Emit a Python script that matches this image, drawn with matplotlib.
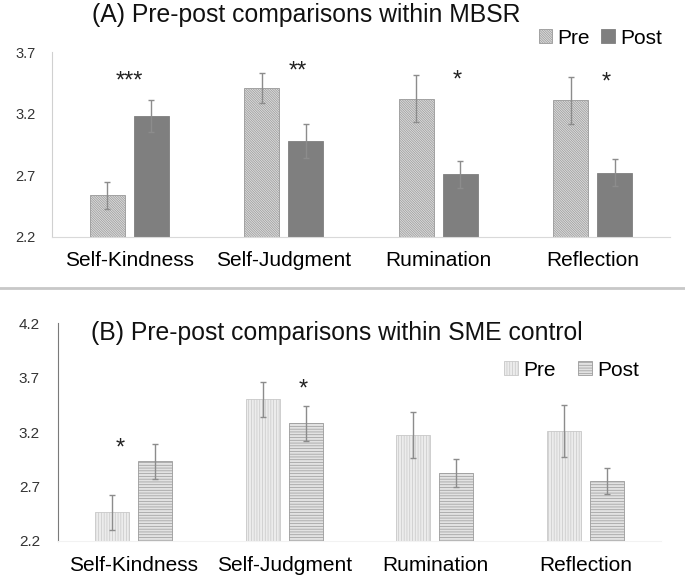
import numpy as np
import matplotlib
matplotlib.use('Agg')
from matplotlib import pyplot as plt
from matplotlib.lines import Line2D

plt.rcParams['font.family'] = ['Liberation Sans', 'DejaVu Sans']
plt.rcParams['hatch.linewidth'] = 0.5

categories = ['Self-Kindness', 'Self-Judgment', 'Rumination', 'Reflection']

# (A) MBSR
mbsr_pre = [2.54, 3.41, 3.32, 3.31]
mbsr_pre_err = [0.11, 0.12, 0.19, 0.19]
mbsr_post = [3.18, 2.98, 2.71, 2.72]
mbsr_post_err = [0.13, 0.14, 0.11, 0.11]
mbsr_stars = ['***', '**', '*', '*']
mbsr_star_y = [3.46, 3.54, 3.47, 3.45]
mbsr_star_dx = [0.0, 0.09, 0.12, 0.09]

# (B) SME control
sme_pre = [2.46, 3.50, 3.17, 3.21]
sme_pre_err = [0.16, 0.16, 0.21, 0.24]
sme_post = [2.93, 3.28, 2.82, 2.75]
sme_post_err = [0.16, 0.16, 0.13, 0.12]
sme_stars = ['*', '*', '', '']
sme_star_y = [3.05, 3.59, 0, 0]
sme_star_dx = [-0.09, 0.126, 0, 0]

x = np.arange(len(categories))
w = 0.225
off = 0.143

fig = plt.figure(figsize=(6.85, 5.77), dpi=100)

# ---- panel A
axA = fig.add_axes([52/685, 1-237/577, (670-52)/685, (237-52)/577])
axA.bar(x-off, mbsr_pre, w, color='#dcdcdc', edgecolor='#999999',
        hatch='\\' * 14, linewidth=0.6, label='Pre')
axA.bar(x+off, mbsr_post, w, color='#7f7f7f', edgecolor='#7f7f7f',
        linewidth=0.6, label='Post')
axA.errorbar(x-off, mbsr_pre, yerr=mbsr_pre_err, fmt='none', ecolor='#8c8c8c',
             elinewidth=1, capsize=2.5, capthick=1)
axA.errorbar(x+off, mbsr_post, yerr=mbsr_post_err, fmt='none', ecolor='#8c8c8c',
             elinewidth=1, capsize=2.5, capthick=1)
for i in range(len(categories)):
    axA.text(x[i]+mbsr_star_dx[i], mbsr_star_y[i], mbsr_stars[i], ha='center',
             va='center', fontsize=17, color='#222222')
axA.set_ylim(2.2, 3.7)
axA.set_xlim(-0.5, 3.5)
axA.set_yticks([2.2, 2.7, 3.2, 3.7])
axA.set_yticklabels(['2.2', '2.7', '3.2', '3.7'])
axA.set_xticks(x)
axA.set_xticklabels(categories, fontsize=15)
axA.tick_params(axis='y', length=0, pad=12, labelsize=10.5, labelcolor='#333333')
axA.tick_params(axis='x', length=0, pad=10)
for s in ['top', 'right']:
    axA.spines[s].set_visible(False)
axA.spines['left'].set_color('#d0d0d0')
axA.spines['bottom'].set_color('#d9d9d9')
axA.legend(loc='center right', bbox_to_anchor=(662/685, 1-38/577),
           bbox_transform=fig.transFigure, ncol=2, frameon=False, fontsize=15,
           handlelength=0.65, handleheight=0.65, handletextpad=0.25,
           columnspacing=0.55, borderpad=0, borderaxespad=0)
fig.text(306/685, 1-15/577, '(A) Pre-post comparisons within MBSR',
         ha='center', va='center', fontsize=17.8, color='#111111')

# separator
fig.add_artist(Line2D([0, 1], [1-288/577, 1-288/577], color='#c8c8c8', lw=2,
                      transform=fig.transFigure))

# ---- panel B
axB = fig.add_axes([58/685, 1-540.7/577, (661-58)/685, (540.7-323.3)/577])
axB.bar(x-off, sme_pre, w, color='#ececec', edgecolor='#c8c8c8',
        hatch='|' * 6, linewidth=0.6, label='Pre')
axB.bar(x+off, sme_post, w, color='#e2e2e2', edgecolor='#9a9a9a',
        hatch='-' * 6, linewidth=0.6, label='Post')
axB.errorbar(x-off, sme_pre, yerr=sme_pre_err, fmt='none', ecolor='#8c8c8c',
             elinewidth=1, capsize=2.5, capthick=1)
axB.errorbar(x+off, sme_post, yerr=sme_post_err, fmt='none', ecolor='#8c8c8c',
             elinewidth=1, capsize=2.5, capthick=1)
for i in range(len(categories)):
    if sme_stars[i]:
        axB.text(x[i]+sme_star_dx[i], sme_star_y[i], sme_stars[i], ha='center',
                 va='center', fontsize=17, color='#222222')
axB.set_ylim(2.2, 4.2)
axB.set_xlim(-0.5, 3.5)
axB.set_yticks([2.2, 2.7, 3.2, 3.7, 4.2])
axB.set_yticklabels(['2.2', '2.7', '3.2', '3.7', '4.2'])
axB.set_xticks(x)
axB.set_xticklabels(categories, fontsize=15)
axB.tick_params(axis='y', length=0, pad=13, labelsize=11, labelcolor='#333333')
axB.tick_params(axis='x', length=0, pad=11)
for s in ['top', 'right']:
    axB.spines[s].set_visible(False)
axB.spines['left'].set_color('#7a7a7a')
axB.spines['bottom'].set_color('#f2f2f2')
axB.legend(loc='center right', bbox_to_anchor=(639/685, 1-370/577),
           bbox_transform=fig.transFigure, ncol=2, frameon=False, fontsize=15,
           handlelength=0.65, handleheight=0.65, handletextpad=0.25,
           columnspacing=1.1, borderpad=0, borderaxespad=0)
fig.text(337/685, 1-333/577, '(B) Pre-post comparisons within SME control',
         ha='center', va='center', fontsize=17.8, color='#111111')

plt.savefig('out.png', dpi=100)
